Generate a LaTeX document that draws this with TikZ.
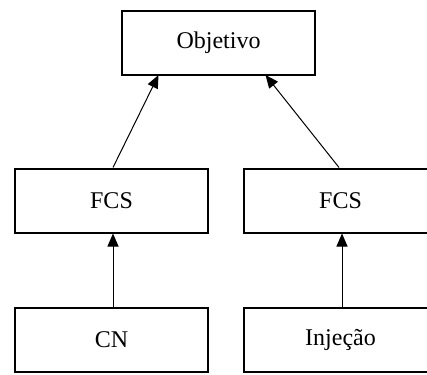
\documentclass[tikz,border=0pt]{standalone}
\usepackage{fontspec}
\setmainfont{Liberation Serif}
\usetikzlibrary{arrows.meta}
\begin{document}
\begin{tikzpicture}[x=1pt,y=-1pt,
  box/.style={draw=black, line width=2pt, fill=white, minimum width=193pt,
    minimum height=64pt, inner sep=0pt, font=\fontsize{24}{28}\selectfont},
  link/.style={line width=1pt, -{Triangle[length=13pt,width=11pt]}}]
  \useasboundingbox (0,0) rectangle (427,374);
  \clip (0,0) rectangle (427,374);
  % boxes
  \node[box] (obj)  at (218.5,43)  {Objetivo};
  \node[box] (fcsL) at (111.5,200.5) {FCS};
  \node[box] (fcsR) at (340.5,200.5) {FCS};
  \node[box] (cn)   at (111.5,339.5) {CN};
  \node[box] (inj)  at (340.5,339.5) {Injeção};
  % end points on the top box
  \coordinate (objL) at ([xshift=-60pt,yshift=1pt]obj.south);
  \coordinate (objR) at ([xshift=47pt,yshift=1pt]obj.south);
  % connectors
  \draw[link] ([xshift=1.5pt]fcsL.north) -- (objL);
  \draw[link] ([xshift=-1.5pt]fcsR.north) -- (objR);
  \draw[link] ([xshift=1.5pt]cn.north) -- ([xshift=1.5pt]fcsL.south);
  \draw[link] ([xshift=1.5pt]inj.north) -- ([xshift=1.5pt]fcsR.south);
\end{tikzpicture}
\end{document}
